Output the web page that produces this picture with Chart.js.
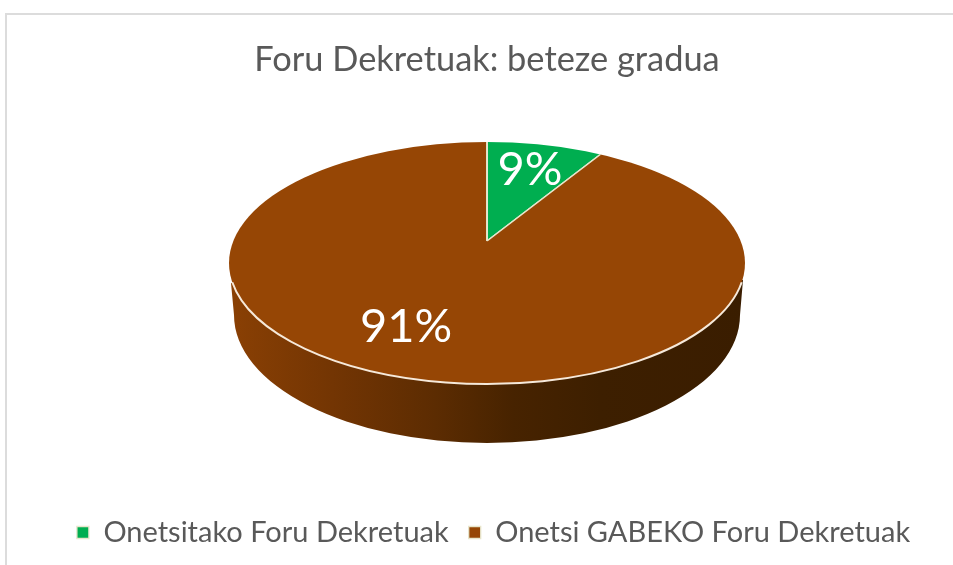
<!DOCTYPE html>
<html><head><meta charset="utf-8">
<script src="https://cdn.jsdelivr.net/npm/chart.js@4"></script>
<style>
html,body{margin:0;padding:0;background:#fff;overflow:hidden;width:953px;height:565px}
#frame{position:absolute;left:5px;top:13px;width:1000px;height:600px;border:2px solid #dcdcdc;box-sizing:border-box}
canvas{position:absolute;left:6px;top:14px;filter:blur(0.35px)}
</style></head><body>
<div id="frame"></div>
<canvas id="c" width="962" height="551"></canvas>
<script>
const chartTitle = "Foru Dekretuak: beteze gradua";
const categories = ["Onetsitako Foru Dekretuak", "Onetsi GABEKO Foru Dekretuak"];
const values = [9, 91];
const sliceColors = ["#00AE50", "#964605"];

const OX = 6, OY = 14; // canvas offset on the page
const top3d = {x: 487 - OX, y: 263 - OY, rx: 258, ry: 121};
const base3d = {x: 487 - OX, y: 315 - OY, rx: 253, ry: 128};
const apex = {x: 487 - OX, y: 241 - OY, rx: 300, ry: 145.4};
const labelPos = [{x: 530 - OX, y: 170 - OY}, {x: 406 - OX, y: 327 - OY}];

const pie3d = {
  id: "pie3d",
  afterLayout(chart) { chart.legend.left += 6.5; chart.legend.right += 6.5; },
  beforeDatasetsDraw(chart) {
    const ctx = chart.ctx, arc = chart.getDatasetMeta(0).data[0];
    // side wall
    const g = ctx.createLinearGradient(top3d.x - top3d.rx, 0, top3d.x + top3d.rx, 0);
    g.addColorStop(0, "#8A4004");
    g.addColorStop(0.2, "#733503");
    g.addColorStop(0.4, "#5C2C02");
    g.addColorStop(0.55, "#472300");
    g.addColorStop(0.72, "#3D1F00");
    g.addColorStop(1, "#3A1D00");
    ctx.save();
    ctx.fillStyle = g;
    ctx.beginPath();
    ctx.moveTo(top3d.x - top3d.rx + 2, 283 - OY);
    ctx.lineTo(base3d.x - base3d.rx, base3d.y);
    ctx.ellipse(base3d.x, base3d.y, base3d.rx, base3d.ry, 0, Math.PI, 0, true);
    ctx.lineTo(top3d.x + top3d.rx - 2, 280 - OY);
    ctx.closePath();
    ctx.fill();
    ctx.restore();
    // top face: the arcs are projected around the apex and cut by the rim
    ctx.save();
    ctx.beginPath();
    ctx.ellipse(top3d.x, top3d.y, top3d.rx, top3d.ry, 0, 0, Math.PI * 2);
    ctx.clip();
    ctx.translate(apex.x, apex.y);
    ctx.scale(apex.rx / arc.outerRadius, apex.ry / arc.outerRadius);
    ctx.translate(-arc.x, -arc.y);
  },
  afterDatasetsDraw(chart) {
    const ctx = chart.ctx;
    ctx.restore();
    // light rim along the front of the top face
    ctx.save();
    ctx.strokeStyle = "#F6E9DA";
    ctx.lineWidth = 2;
    ctx.beginPath();
    ctx.ellipse(top3d.x, top3d.y, top3d.rx, top3d.ry, 0, 0.16, Math.PI - 0.16);
    ctx.stroke();
    // value labels
    const total = values.reduce((a, b) => a + b, 0);
    ctx.fillStyle = "#FFFFFF";
    ctx.font = "47px Lato, sans-serif";
    ctx.textAlign = "center";
    ctx.textBaseline = "middle";
    values.forEach((v, i) => ctx.fillText(Math.round(v / total * 100) + "%", labelPos[i].x, labelPos[i].y));
    ctx.restore();
  }
};

new Chart(document.getElementById("c"), {
  type: "pie",
  data: {
    labels: categories,
    datasets: [{data: values, backgroundColor: sliceColors, borderColor: "#E8E6CC", borderWidth: 1.3}]
  },
  options: {
    responsive: false,
    animation: false,
    layout: {padding: {bottom: 8}},
    plugins: {
      tooltip: {enabled: false},
      title: {
        display: true, text: chartTitle, color: "#595959",
        font: {family: "Lato, sans-serif", size: 34.4, weight: "normal"},
        padding: {top: 25.5, bottom: 10}
      },
      legend: {
        position: "bottom",
        labels: {
          color: "#595959", boxWidth: 12, boxHeight: 12, padding: 20,
          font: {family: "Lato, sans-serif", size: 29}
        }
      }
    }
  },
  plugins: [pie3d]
});
</script>
</body></html>
